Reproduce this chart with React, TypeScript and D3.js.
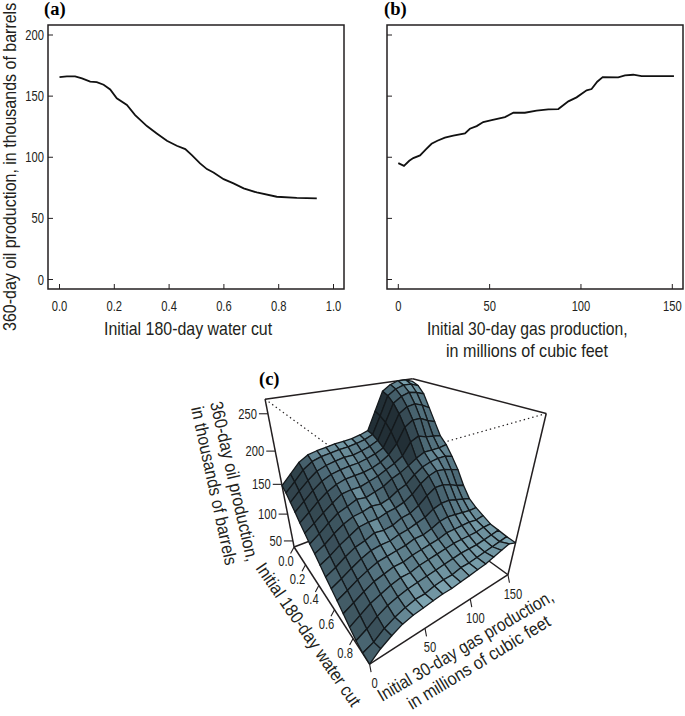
import React from 'react';
import * as d3 from 'd3';

const W = 685;
const H = 716;

// panel (a): oil production against water cut
const waterCut = [0, .027, .057, .082, .112, .136, .161, .185, .209, .246, .276, .319, .355, .392, .428, .459, .483, .513, .538, .562, .599, .635, .672, .72, .793, .866, .939];
const oilByWater = [165.6, 166.2, 166.2, 164.5, 161.8, 161.5, 159.3, 155.5, 148.2, 142.7, 134.5, 125.5, 119.5, 113.5, 109.4, 106.7, 101.8, 95, 90.3, 87.6, 82.1, 78.6, 74.5, 71.2, 67.7, 66.8, 66.3];

// panel (b): oil production against gas
const gasProd = [0, 3.1, 6, 8.2, 11.9, 15.1, 18.2, 21.4, 25.5, 30.1, 36.5, 39.2, 42.9, 46.5, 51.1, 58.4, 63, 69.3, 75.7, 82.1, 87.6, 93.1, 97.6, 103.1, 105.8, 108.9, 111.9, 120.4, 124.1, 128.6, 133.2, 150.9];
const oilByGas = [95.2, 93, 97.1, 99.3, 101.5, 106.4, 111, 113.5, 116, 117.6, 119.5, 123.3, 125.5, 128.8, 130.4, 132.9, 136.4, 136.4, 138.1, 139.2, 139.4, 145.7, 149, 154.7, 155.8, 161.8, 165.6, 165.3, 167, 167.5, 166.4, 166.4];

const oilTicks = [0, 50, 100, 150, 200];
const waterTicks = [0, .2, .4, .6, .8, 1];
const gasTicks = [0, 50, 100, 150];

// panel (c): heights, one row per water cut step, one column per gas step
const surface = [
  [148, 162, 176, 184, 187, 189, 191, 192, 193, 196, 200, 228, 256, 264, 268, 268, 264],
  [143, 156, 170, 179, 183, 185, 187, 188, 190, 193, 198, 224, 252, 260, 264, 264, 260],
  [135, 148, 160, 170, 175, 178, 180, 180, 183, 187, 193, 218, 244, 252, 256, 254, 250],
  [127, 139, 151, 161, 167, 170, 172, 173, 176, 180, 186, 208, 232, 240, 242, 238, 232],
  [118, 129, 141, 151, 158, 162, 163, 164, 167, 172, 180, 194, 216, 224, 224, 218, 214],
  [110, 120, 131, 141, 150, 152, 152, 156, 160, 166, 172, 180, 198, 204, 200, 198, 196],
  [102, 112, 123, 133, 138, 144, 142, 146, 150, 158, 163, 170, 178, 184, 184, 184, 186],
  [96, 104, 115, 124, 130, 132, 136, 134, 138, 146, 151, 162, 170, 174, 176, 176, 172],
  [88, 96, 106, 114, 122, 124, 124, 128, 130, 134, 142, 154, 162, 166, 164, 160, 156],
  [80, 88, 98, 106, 110, 116, 114, 116, 122, 124, 131, 142, 150, 150, 146, 140, 136],
  [73, 81, 90, 98, 104, 106, 106, 110, 112, 116, 120, 128, 132, 132, 128, 124, 120],
  [66, 74, 83, 90, 96, 98, 100, 102, 106, 106, 110, 116, 118, 116, 114, 112, 112],
  [58, 67, 76, 84, 88, 92, 92, 96, 98, 100, 102, 106, 106, 106, 106, 104, 106],
  [50, 60, 70, 76, 82, 86, 86, 90, 92, 94, 96, 98, 98, 98, 98, 100, 100],
  [43, 52, 63, 71, 76, 80, 82, 84, 86, 88, 90, 92, 92, 92, 94, 96, 98],
  [39, 46, 58, 66, 72, 76, 76, 80, 82, 82, 86, 86, 88, 90, 92, 94, 96],
  [38, 52, 62, 70, 74, 76, 78, 80, 80, 82, 84, 86, 88, 92, 96, 100, 95],
];
const zTicks = [50, 100, 150, 200, 250];
const waterTicks3d = [0, .2, .4, .6, .8];

const WATER_MAX = 0.95;
const GAS_MAX = 150;
const Z_MIN = 38;
const Z_MAX = 268;

// box corners: [gas, water, z] unit cube -> screen
const boxCorners: [number, number, number, number, number][] = [
  [0, 0, 0, 294, 547],
  [0, 1, 0, 370, 664],
  [1, 1, 0, 508, 575],
  [1, 0, 0, 409, 503],
  [0, 0, 1, 265, 399],
  [0, 1, 1, 357, 467],
  [1, 1, 1, 546, 413],
  [1, 0, 1, 413, 379],
];

// least squares fit of the 3x4 camera matrix (last entry fixed to 1)
function fitCamera() {
  const rows: number[][] = [];
  const rhs: number[] = [];
  boxCorners.forEach(([a, b, c, x, y]) => {
    rows.push([a, b, c, 1, 0, 0, 0, 0, -a * x, -b * x, -c * x]);
    rhs.push(x);
    rows.push([0, 0, 0, 0, a, b, c, 1, -a * y, -b * y, -c * y]);
    rhs.push(y);
  });
  const n = 11;
  const m = d3.range(n).map((i) =>
    d3.range(n + 1).map((j) =>
      d3.sum(rows, (r, k) => r[i] * (j < n ? r[j] : rhs[k]))
    )
  );
  for (let i = 0; i < n; i++) {
    let p = i;
    for (let k = i + 1; k < n; k++) if (Math.abs(m[k][i]) > Math.abs(m[p][i])) p = k;
    [m[i], m[p]] = [m[p], m[i]];
    for (let k = 0; k < n; k++) {
      if (k === i) continue;
      const f = m[k][i] / m[i][i];
      for (let j = i; j <= n; j++) m[k][j] -= f * m[i][j];
    }
  }
  return d3.range(n).map((i) => m[i][n] / m[i][i]);
}

const cam = fitCamera();
const gasUnit = d3.scaleLinear().domain([0, GAS_MAX]).range([0, 1]);
const waterUnit = d3.scaleLinear().domain([0, WATER_MAX]).range([0, 1]);
const zUnit = d3.scaleLinear().domain([Z_MIN, Z_MAX]).range([0, 1]);

function project(gas: number, water: number, z: number): [number, number] {
  const a = gasUnit(gas);
  const b = waterUnit(water);
  const c = zUnit(z);
  const d = cam[8] * a + cam[9] * b + cam[10] * c + 1;
  return [
    (cam[0] * a + cam[1] * b + cam[2] * c + cam[3]) / d,
    (cam[4] * a + cam[5] * b + cam[6] * c + cam[7]) / d,
  ];
}

const nRows = surface.length;
const nCols = surface[0].length;
const gasAt = d3.scaleLinear().domain([0, nCols - 1]).range([0, GAS_MAX]);
const waterAt = d3.scaleLinear().domain([0, nRows - 1]).range([0, WATER_MAX]);
const shadeColor = d3.scaleLinear<string>().domain([0.1, 0.6, 1]).range(['#222f36', '#4f6d7a', '#7fa6b3']).clamp(true);

function facets() {
  const out: { d: string; fill: string; key: string }[] = [];
  // painter's order: far corner is high gas, low water
  for (let c = nCols - 2; c >= 0; c--) {
    for (let r = 0; r < nRows - 1; r++) {
      const z00 = surface[r][c];
      const z01 = surface[r][c + 1];
      const z10 = surface[r + 1][c];
      const z11 = surface[r + 1][c + 1];
      const pts = [
        project(gasAt(c), waterAt(r), z00),
        project(gasAt(c + 1), waterAt(r), z01),
        project(gasAt(c + 1), waterAt(r + 1), z11),
        project(gasAt(c), waterAt(r + 1), z10),
      ];
      const dg = ((z01 + z11 - z00 - z10) / 2) / (Z_MAX - Z_MIN) * (nCols - 1);
      const dw = ((z10 + z11 - z00 - z01) / 2) / (Z_MAX - Z_MIN) * (nRows - 1);
      const len = Math.hypot(dg, dw, 1);
      const lit = (-dg * 0.5 + dw * 0.12 + 0.85) / len;
      out.push({
        key: `${r}-${c}`,
        d: d3.line()(pts) + 'Z',
        fill: shadeColor(lit * 1.2),
      });
    }
  }
  return out;
}

const LABEL_FONT = '"Liberation Sans", sans-serif';
const INK = '#231f20';

// the source uses a condensed face, so plain glyphs are squeezed horizontally
function Tick({ x, y, anchor = 'middle', children }: any) {
  return (
    <text transform={`translate(${x},${y}) scale(0.8,1)`} textAnchor={anchor} fontFamily={LABEL_FONT} fontSize={14} fill={INK}>{children}</text>
  );
}

function Label({ x, y, angle = 0, k = 0.885, children }: any) {
  return (
    <text transform={`translate(${x},${y}) rotate(${angle}) scale(${k},1)`} fontFamily={LABEL_FONT} fontSize={18} fill={INK}>{children}</text>
  );
}

function Tag({ x, y, children }: any) {
  return <text x={x} y={y} fontFamily="'Liberation Serif', serif" fontWeight="bold" fontSize={18.5} fill="#000">{children}</text>;
}

function LinePanel({ left, xs, ys, xDomain, xRange, xTickVals, xFmt, showY }: any) {
  const x = d3.scaleLinear().domain(xDomain).range(xRange);
  const y = d3.scaleLinear().domain([0, 200]).range([279.5, 35]);
  const line = d3.line<number>().x((d) => x(d)).y((_, i) => y(ys[i]));
  return (
    <g>
      <rect x={left} y={25} width={296} height={264} fill="none" stroke={INK} strokeWidth={1.5} />
      {oilTicks.map((t) => (
        <g key={t}>
          <line x1={left} x2={left + 5} y1={y(t)} y2={y(t)} stroke={INK} strokeWidth={1} />
          {showY && <Tick x={left - 4} y={y(t) + 5} anchor="end">{t}</Tick>}
        </g>
      ))}
      {xTickVals.map((t: number) => (
        <g key={t}>
          <line x1={x(t)} x2={x(t)} y1={289} y2={284} stroke={INK} strokeWidth={1} />
          <Tick x={x(t)} y={311}>{xFmt(t)}</Tick>
        </g>
      ))}
      <path d={line(xs) as string} fill="none" stroke="#111" strokeWidth={1.8} />
    </g>
  );
}

export default function App() {
  const P = project;
  const corner = (a: number, b: number, c: number) => P(a * GAS_MAX, b * WATER_MAX, Z_MIN + c * (Z_MAX - Z_MIN));
  const seg = (p: [number, number], q: [number, number], dotted = false, k = '') => (
    <line key={k} x1={p[0]} y1={p[1]} x2={q[0]} y2={q[1]} stroke={INK} strokeWidth={dotted ? 1.2 : 1.5} strokeDasharray={dotted ? '1.4 3' : undefined} />
  );
  return (
    <svg width={W} height={H} style={{ position: 'absolute', left: 0, top: 0, background: '#fff' }}>
      <Tag x={44} y={15}>(a)</Tag>
      <Tag x={384} y={15}>(b)</Tag>
      <LinePanel left={48} xs={waterCut} ys={oilByWater} xDomain={[0, 1]} xRange={[59.5, 333.5]} xTickVals={waterTicks} xFmt={d3.format('.1f')} showY />
      <LinePanel left={387} xs={gasProd} ys={oilByGas} xDomain={[0, 150]} xRange={[398.3, 672.3]} xTickVals={gasTicks} xFmt={d3.format('d')} showY={false} />
      <Label x={15.5} y={331} angle={-90} k={0.89}>360-day oil production, in thousands of barrels</Label>
      <Label x={104} y={335}>Initial 180-day water cut</Label>
      <Label x={427} y={335} k={0.873}>Initial 30-day gas production,</Label>
      <Label x={446} y={357} k={0.895}>in millions of cubic feet</Label>

      <Tag x={259} y={385}>(c)</Tag>

      {seg(corner(0, 0, 1), corner(0, 1, 1), true, 'd1')}
      {seg(corner(1, 1, 1), corner(0, 1, 1), true, 'd2')}
      {seg(corner(0, 0, 1), corner(1, 0, 1), false, 's1')}
      {seg(corner(1, 0, 1), corner(1, 1, 1), false, 's2')}
      {seg(corner(0, 0, 1), corner(0, 0, 0), false, 's3')}
      {seg(corner(1, 1, 1), corner(1, 1, 0), false, 's4')}
      {seg(corner(0, 0, 0), corner(0, 1, 0), false, 's5')}
      {seg(corner(0, 1, 0), corner(1, 1, 0), false, 's6')}
      {seg(corner(1, 1, 0), corner(1, 0, 0), false, 's7')}
      {seg(corner(0, 0, 0), corner(1, 0, 0), false, 's8')}

      <g stroke="#14191c" strokeWidth={1.3} strokeLinejoin="round">
        {facets().map((f) => <path key={f.key} d={f.d} fill={f.fill} />)}
      </g>

      {zTicks.map((t) => {
        const p = P(0, 0, t);
        return (
          <g key={t}>
            <line x1={p[0]} y1={p[1]} x2={p[0] - 9} y2={p[1]} stroke={INK} strokeWidth={1.1} />
            <Tick x={p[0] - 11} y={p[1] + 5} anchor="end">{t}</Tick>
          </g>
        );
      })}
      {waterTicks3d.map((t) => {
        const p = P(0, t, Z_MIN);
        return (
          <g key={t}>
            <line x1={p[0]} y1={p[1]} x2={p[0] - 3.5} y2={p[1] + 6.5} stroke={INK} strokeWidth={1.1} />
            <Tick x={p[0] - 8} y={p[1] + 19}>{d3.format('.1f')(t)}</Tick>
          </g>
        );
      })}
      {gasTicks.map((t) => {
        const p = P(t, WATER_MAX, Z_MIN);
        return (
          <g key={t}>
            <line x1={p[0]} y1={p[1]} x2={p[0] + 1.5} y2={p[1] + 8} stroke={INK} strokeWidth={1.1} />
            <Tick x={p[0] + 5} y={p[1] + 24}>{t}</Tick>
          </g>
        );
      })}
      <Label x={210} y={403} angle={77} k={0.9}>360-day oil production,</Label>
      <Label x={191} y={408} angle={77.7} k={0.89}>in thousands of barrels</Label>
      <Label x={255} y={568} angle={55.3} k={0.895}>Initial 180-day water cut</Label>
      <Label x={382} y={702} angle={-30.5} k={0.873}>Initial 30-day gas production,</Label>
      <Label x={412} y={710} angle={-31.3} k={0.905}>in millions of cubic feet</Label>
    </svg>
  );
}
